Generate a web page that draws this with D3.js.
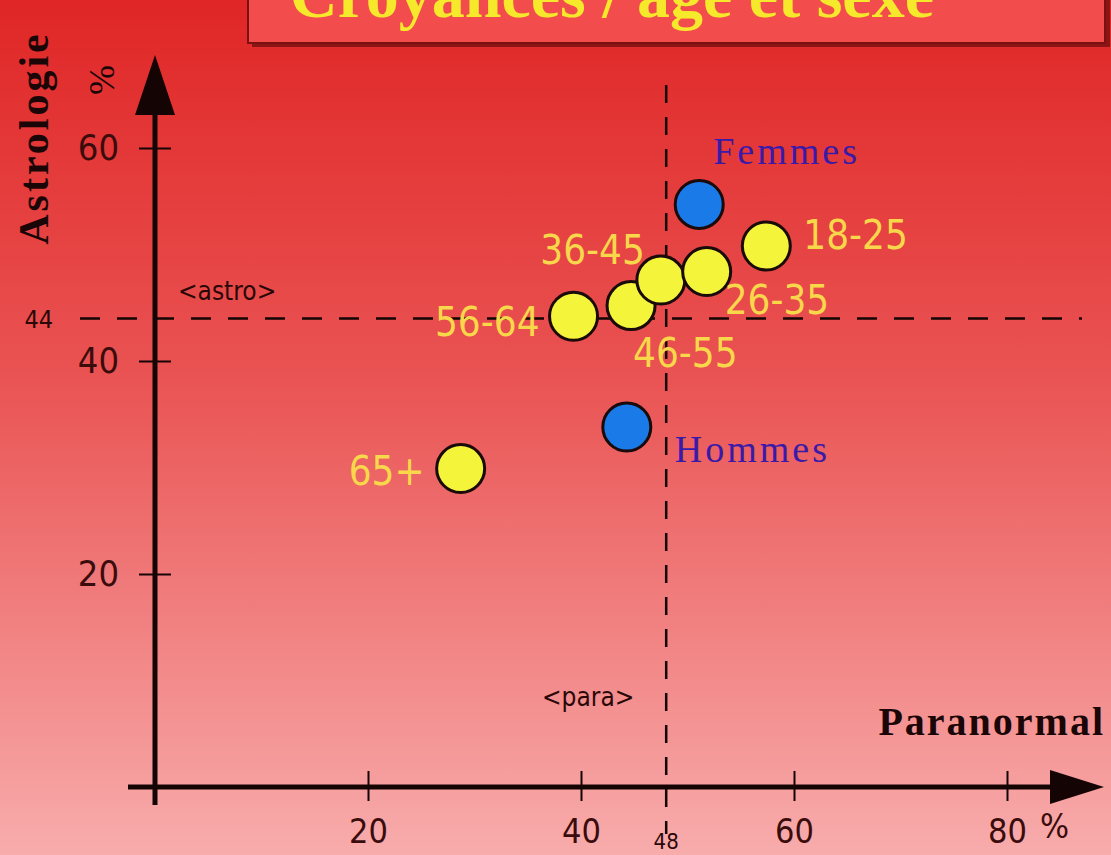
<!DOCTYPE html>
<html>
<head>
<meta charset="utf-8">
<script src="https://cdn.jsdelivr.net/npm/d3@7"></script>
<style>
  html, body { margin: 0; padding: 0; overflow: hidden; }
</style>
</head>
<body>
<svg id="chart" width="1111" height="855"></svg>
<script>
// data
const groups = ["Femmes", "Hommes", "18-25", "26-35", "36-45", "46-55", "56-64", "65+"];
const kinds = ["sexe", "sexe", "age", "age", "age", "age", "age", "age"];
const paranormal = [51.1, 44.3, 57.4, 51.8, 47.5, 44.7, 39.3, 28.7];
const astrologie = [54.7, 33.8, 50.8, 48.4, 47.6, 45.2, 44.2, 29.9];
const meanPara = 48;
const meanAstro = 44;
const xTicks = [20, 40, 60, 80];
const yTicks = [20, 40, 60];

const width = 1111;
const height = 855;
const svg = d3.select("#chart");

const serif = "'Liberation Serif', 'DejaVu Serif', serif";
const sans = "'DejaVu Sans Condensed', 'DejaVu Sans', sans-serif";
const axisColor = "#140404";
const textDark = "#3a0c0c";

// background gradient
const defs = svg.append("defs");
const grad = defs.append("linearGradient")
    .attr("id", "bg")
    .attr("x1", 0).attr("y1", 0).attr("x2", 0).attr("y2", 1);
grad.append("stop").attr("offset", "0%").attr("stop-color", "#e02626");
grad.append("stop").attr("offset", "45%").attr("stop-color", "#ea5454");
grad.append("stop").attr("offset", "100%").attr("stop-color", "#f8acac");

svg.append("rect")
    .attr("width", width)
    .attr("height", height)
    .attr("fill", "url(#bg)");

// title box (cut off at the top, as in the picture)
svg.append("rect")
    .attr("x", 252).attr("y", -20)
    .attr("width", 858).attr("height", 67)
    .attr("fill", "#8c1414");
svg.append("rect")
    .attr("x", 248).attr("y", -20)
    .attr("width", 857).attr("height", 63)
    .attr("fill", "#f24c4c")
    .attr("stroke", "#7a1010")
    .attr("stroke-width", 2);
svg.append("text")
    .attr("x", 290).attr("y", 17)
    .attr("fill", "#f6e82a")
    .style("font-family", serif)
    .style("font-weight", "bold")
    .style("font-size", "66px")
    .text("Croyances / âge et sexe");

// scales
const x = d3.scaleLinear().domain([0, 80]).range([155, 1007]);
const y = d3.scaleLinear().domain([0, 60]).range([787, 148]);

// mean lines
svg.append("line")
    .attr("x1", 80).attr("x2", 1082)
    .attr("y1", y(meanAstro)).attr("y2", y(meanAstro))
    .attr("stroke", axisColor)
    .attr("stroke-width", 2.5)
    .attr("stroke-dasharray", "20,17");
svg.append("line")
    .attr("x1", x(meanPara)).attr("x2", x(meanPara))
    .attr("y1", 85).attr("y2", 834)
    .attr("stroke", axisColor)
    .attr("stroke-width", 2.5)
    .attr("stroke-dasharray", "18,14");

// y axis
const yAxis = svg.append("g")
    .attr("transform", `translate(${x(0)},0)`)
    .call(d3.axisLeft(y).tickValues(yTicks).tickSize(16).tickPadding(20));
yAxis.select(".domain").remove();
yAxis.selectAll(".tick line")
    .attr("x1", -16).attr("x2", 16)
    .attr("stroke", axisColor).attr("stroke-width", 2);
yAxis.selectAll(".tick text")
    .attr("fill", textDark)
    .style("font-family", sans)
    .style("font-size", "36px");
svg.append("line")
    .attr("x1", x(0)).attr("x2", x(0))
    .attr("y1", 805).attr("y2", 110)
    .attr("stroke", axisColor).attr("stroke-width", 5);
svg.append("path")
    .attr("d", `M${x(0)},55 L${x(0) + 20},115 L${x(0) - 20},115 Z`)
    .attr("fill", axisColor);

// x axis
const xAxis = svg.append("g")
    .attr("transform", `translate(0,${y(0)})`)
    .call(d3.axisBottom(x).tickValues(xTicks).tickSize(0).tickPadding(32));
xAxis.select(".domain").remove();
xAxis.selectAll(".tick line")
    .attr("y1", -16).attr("y2", 14)
    .attr("stroke", axisColor).attr("stroke-width", 2);
xAxis.selectAll(".tick text")
    .attr("fill", textDark)
    .style("font-family", sans)
    .style("font-size", "34px");
svg.append("line")
    .attr("x1", 128).attr("x2", 1060)
    .attr("y1", y(0)).attr("y2", y(0))
    .attr("stroke", axisColor).attr("stroke-width", 5);
svg.append("path")
    .attr("d", `M1104,${y(0)} L1050,${y(0) - 17} L1050,${y(0) + 17} Z`)
    .attr("fill", axisColor);

// axis titles and small labels
svg.append("text")
    .attr("transform", "translate(48,138) rotate(-90)")
    .attr("text-anchor", "middle")
    .attr("fill", "#1a0606")
    .style("font-family", serif)
    .style("font-weight", "bold")
    .style("font-size", "42px")
    .style("letter-spacing", "3px")
    .text("Astrologie");
svg.append("text")
    .attr("transform", "translate(114,80) rotate(-90)")
    .attr("text-anchor", "middle")
    .attr("fill", "#1a0606")
    .style("font-family", serif)
    .style("font-size", "36px")
    .text("%");
svg.append("text")
    .attr("x", 1105).attr("y", 735)
    .attr("text-anchor", "end")
    .attr("fill", "#1a0606")
    .style("font-family", serif)
    .style("font-weight", "bold")
    .style("font-size", "40px")
    .style("letter-spacing", "2px")
    .text("Paranormal");
svg.append("text")
    .attr("x", 1040).attr("y", 838)
    .attr("fill", textDark)
    .style("font-family", sans)
    .style("font-size", "34px")
    .text("%");
svg.append("text")
    .attr("x", 53).attr("y", y(meanAstro) + 10)
    .attr("text-anchor", "end")
    .attr("fill", "#2a0808")
    .style("font-family", sans)
    .style("font-size", "25px")
    .text(meanAstro);
svg.append("text")
    .attr("x", x(meanPara)).attr("y", 849)
    .attr("text-anchor", "middle")
    .attr("fill", "#2a0808")
    .style("font-family", sans)
    .style("font-size", "22px")
    .text(meanPara);
svg.append("text")
    .attr("x", 178).attr("y", 300)
    .attr("fill", "#2a0808")
    .style("font-family", sans)
    .style("font-size", "26px")
    .text("<astro>");
svg.append("text")
    .attr("x", 542).attr("y", 706)
    .attr("fill", "#2a0808")
    .style("font-family", sans)
    .style("font-size", "26px")
    .text("<para>");

// points
const points = groups.map((g, i) => ({
    name: g, kind: kinds[i], px: paranormal[i], py: astrologie[i]
}));

// draw order so the overlapping circles stack like in the picture
const drawOrder = [7, 6, 5, 4, 3, 2, 0, 1];
svg.append("g")
    .selectAll("circle")
    .data(drawOrder.map(i => points[i]))
    .enter()
    .append("circle")
    .attr("cx", d => x(d.px))
    .attr("cy", d => y(d.py))
    .attr("r", 24)
    .attr("fill", d => d.kind === "sexe" ? "#1a7ae8" : "#f4f53a")
    .attr("stroke", "#1a0a0a")
    .attr("stroke-width", 3);

// point labels: [dx, dy, anchor]
const labelOffsets = {
    "Femmes": [14, -40, "start"],
    "Hommes": [48, 35, "start"],
    "18-25": [37, 3, "start"],
    "26-35": [18, 42, "start"],
    "36-45": [-16, -16, "end"],
    "46-55": [2, 61, "start"],
    "56-64": [-34, 20, "end"],
    "65+": [-36, 16, "end"]
};
svg.append("g")
    .selectAll("text")
    .data(points)
    .enter()
    .append("text")
    .attr("x", d => x(d.px) + labelOffsets[d.name][0])
    .attr("y", d => y(d.py) + labelOffsets[d.name][1])
    .attr("text-anchor", d => labelOffsets[d.name][2])
    .attr("fill", d => d.kind === "sexe" ? "#3a1aa8" : "#f8d84a")
    .style("font-family", d => d.kind === "sexe" ? serif : sans)
    .style("font-size", d => d.kind === "sexe" ? "38px" : "40px")
    .style("letter-spacing", d => d.kind === "sexe" ? "3px" : "0px")
    .text(d => d.name);
</script>
</body>
</html>
